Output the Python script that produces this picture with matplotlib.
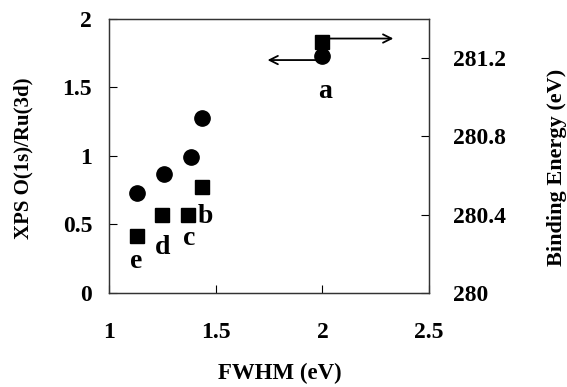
import matplotlib
matplotlib.use("Agg")
import matplotlib.pyplot as plt

plt.rcParams['font.family'] = ['Liberation Serif', 'DejaVu Serif']
plt.rcParams['font.weight'] = 'bold'

# samples a..e
samples = ['a', 'b', 'c', 'd', 'e']
# O(1s)/Ru(3d) ratio vs FWHM (circles, left axis)
fwhm_ratio = [2.00, 1.436, 1.383, 1.258, 1.132]
o_ru_ratio = [1.73, 1.275, 0.99, 0.87, 0.73]
# binding energy vs FWHM (squares, right axis)
fwhm_be = [2.00, 1.436, 1.371, 1.249, 1.132]
binding_energy = [281.28, 280.54, 280.40, 280.40, 280.29]
# label positions (FWHM, left-axis value)
label_x = [2.01, 1.45, 1.378, 1.251, 1.126]
label_y = [1.47, 0.557, 0.40, 0.33, 0.228]

fig = plt.figure(figsize=(5.67, 3.87), dpi=100)
ax = fig.add_axes([0.192, 0.243, 0.565, 0.708])
ax2 = ax.twinx()

# arrows showing which axis each series uses
ax.annotate('', xy=(1.73, 1.70), xytext=(fwhm_ratio[0], 1.70),
            arrowprops=dict(arrowstyle='->,head_length=0.6,head_width=0.3', lw=1.3, color='black'))
ax2.annotate('', xy=(2.345, 281.30), xytext=(fwhm_be[0], 281.30),
             arrowprops=dict(arrowstyle='->,head_length=0.6,head_width=0.3', lw=1.3, color='black'))

ax2.plot(fwhm_be, binding_energy, 's', color='black', markersize=10.5, zorder=3)
ax.plot(fwhm_ratio, o_ru_ratio, 'o', color='black', markersize=11, zorder=3)

for s, lx, ly in zip(samples, label_x, label_y):
    ax.text(lx, ly, s, fontsize=20, fontweight='bold', ha='center', va='center')

ax.set_xlim(1, 2.5)
ax.set_ylim(0, 2)
ax2.set_ylim(280, 281.4)
ax.set_xticks([1, 1.5, 2, 2.5])
ax.set_xticklabels(['1', '1.5', '2', '2.5'])
ax.set_yticks([0, 0.5, 1, 1.5, 2])
ax.set_yticklabels(['0', '0.5', '1', '1.5', '2'])
ax2.set_yticks([280, 280.4, 280.8, 281.2])
ax2.set_yticklabels(['280', '280.4', '280.8', '281.2'])

ax.tick_params(axis='x', direction='in', length=6, width=0.8, pad=21, labelsize=17)
ax.tick_params(axis='y', direction='in', length=6, width=0.8, pad=12, labelsize=17)
ax2.tick_params(axis='y', direction='in', length=6, width=0.8, pad=17, labelsize=17)

for a in (ax, ax2):
    for sp in a.spines.values():
        sp.set_linewidth(0.9)
        sp.set_color('#333333')

ax.set_xlabel('FWHM (eV)', fontsize=16.5, fontweight='bold', va='center')
ax.xaxis.set_label_coords(0.533, -0.295)
ax.set_ylabel('XPS O(1s)/Ru(3d)', fontsize=15, fontweight='bold', va='center')
ax.yaxis.set_label_coords(-0.265, 0.49)
ax2.set_ylabel('Binding Energy (eV)', fontsize=16, fontweight='bold', va='center')
ax2.yaxis.set_label_coords(1.40, 0.46)

fig.savefig('out.png', dpi=100)
